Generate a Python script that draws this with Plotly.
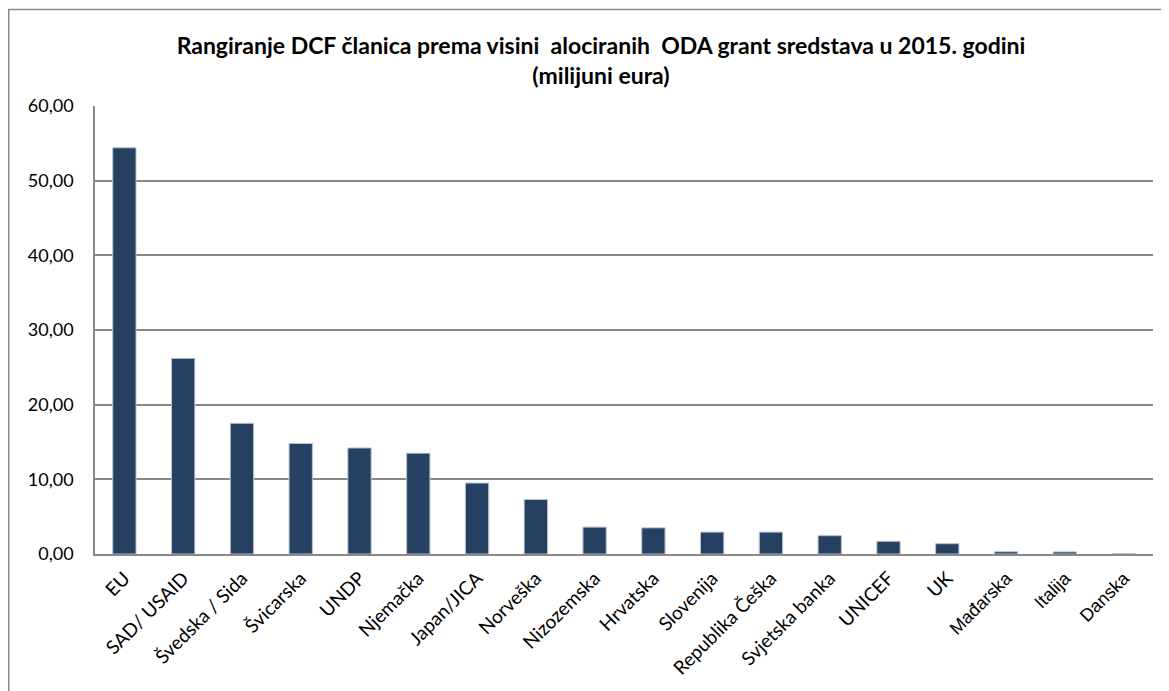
import plotly.graph_objects as go

categories = ["EU", "SAD/ USAID", "Švedska / Sida", "Švicarska", "UNDP", "Njemačka",
              "Japan/JICA", "Norveška", "Nizozemska", "Hrvatska", "Slovenija",
              "Republika Češka", "Svjetska banka", "UNICEF", "UK", "Mađarska",
              "Italija", "Danska"]
values = [54.4, 26.2, 17.5, 14.8, 14.2, 13.5, 9.5, 7.3, 3.6, 3.5, 2.93, 2.93,
          2.45, 1.7, 1.38, 0.3, 0.28, 0.05]
y_ticks = [0, 10, 20, 30, 40, 50, 60]
arial_labels = ["Mađarska", "Italija", "Danska"]

title_line1 = "Rangiranje DCF članica prema visini\u00a0 alociranih\u00a0 ODA grant sredstava u 2015. godini"
title_line2 = "(milijuni eura)"

OFF = 8  # page offset of the figure inside the window
W, H = 1169 - OFF, 691 - OFF
L, R, T, B = 95 - OFF, 1153 - OFF, 105.5 - OFF, 554.5 - OFF
FONT = "Lato"

tick_text = [
    ('<span style="font-family:Liberation Sans;font-size:18px">%s</span>' % c)
    if c in arial_labels else c
    for c in categories
]

fig = go.Figure()
fig.add_trace(go.Bar(
    x=categories, y=values,
    marker=dict(color="#254061", line=dict(color="#b4c0d0", width=1)),
))

fig.update_layout(
    width=W, height=H,
    margin=dict(l=L, r=W - R, t=T, b=H - B, pad=0),
    paper_bgcolor="white", plot_bgcolor="white",
    bargap=0.604,
    showlegend=False,
    separators=",.",
    font=dict(family=FONT, size=19, color="black"),
    title=dict(
        text="<b>" + title_line1 + "</b><br><b>" + title_line2 + "</b>",
        x=(601 - OFF) / W, xanchor="center",
        y=1 - 46 / H, yanchor="top",
        xref="container", yref="container",
        font=dict(family=FONT, size=23, color="black"),
    ),
)
fig.update_xaxes(
    tickangle=-45,
    tickvals=categories, ticktext=tick_text,
    showline=True, linecolor="#898989", linewidth=1.5,
    showgrid=False, ticks="", tickfont=dict(family=FONT, size=19),
    ticklabelstandoff=4,
)
fig.update_yaxes(
    range=[0, 60], tickvals=y_ticks, tickformat=".2f",
    showline=True, linecolor="#898989", linewidth=1.5,
    showgrid=True, gridcolor="#898989", gridwidth=1.5,
    zeroline=False, ticks="", tickfont=dict(family=FONT, size=18),
    ticklabelstandoff=16,
)

# outer chart border (left and top edges visible in the frame)
pw, ph = R - L, B - T
fig.add_shape(type="rect", xref="paper", yref="paper",
              x0=(0.75 - L) / pw, x1=(1190 - L) / pw,
              y0=(B - 720) / ph, y1=1 + (T - 0.75) / ph,
              line=dict(color="#898989", width=1.5), fillcolor="rgba(0,0,0,0)",
              layer="below")

fig.write_html("out.html")
